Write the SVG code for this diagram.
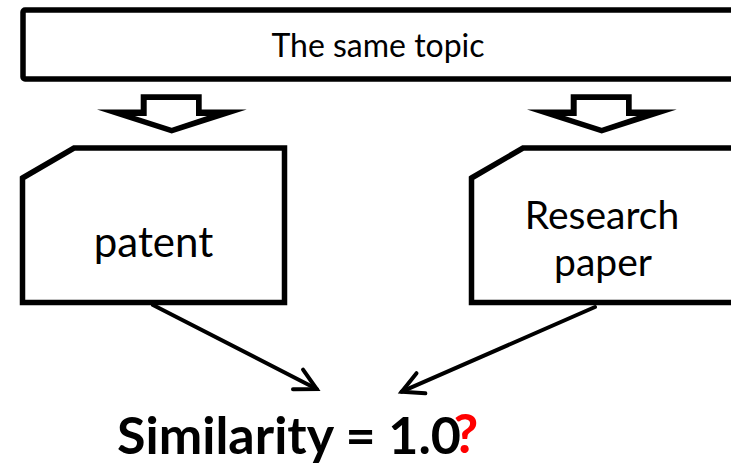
<svg xmlns="http://www.w3.org/2000/svg" width="731" height="464" viewBox="0 0 731 464">
  <style>
    .box { fill: #ffffff; stroke: #000000; stroke-width: 5.5; stroke-linejoin: miter; }
    .lbl { font-family: Lato, "Liberation Sans", sans-serif; fill: #000000; text-anchor: middle; }
    .link { fill: none; stroke: #000000; stroke-width: 4; stroke-linecap: round; }
    .blk { fill: #000000; }
    .hole { fill: #ffffff; }
  </style>
  <defs>
    <marker id="open-head" markerUnits="userSpaceOnUse" markerWidth="40" markerHeight="40" viewBox="-30 -20 40 40" refX="0" refY="0" orient="auto">
      <path d="M -21 -11 L 0 0 L -21 11" fill="none" stroke="#000000" stroke-width="4" stroke-linecap="round" stroke-linejoin="miter"/>
    </marker>
    <!-- hollow block arrow pointing down, tip at (0,0) -->
    <g id="block-arrow">
      <polygon class="blk" points="-31,-39.2 30,-39.2 30,-24 75,-24 0,0 -74.7,-24 -31,-24"/>
      <polygon class="hole" points="-25,-33.5 24.3,-33.5 24.3,-17.5 35.3,-17.5 0,-5.8 -36.7,-17.5 -25,-17.5"/>
    </g>
  </defs>

  <g id="topic">
    <rect class="box" x="23" y="10" width="730" height="69" rx="2"/>
    <text class="lbl" x="378" y="57" font-size="32">The same topic</text>
  </g>

  <g id="patent">
    <polygon class="box" points="22.5,178 74,148 284.5,148 284.5,302.5 22.5,302.5"/>
    <text class="lbl" x="153.5" y="257" font-size="42">patent</text>
  </g>

  <g id="paper">
    <polygon class="box" points="471.5,178 523,148 745,148 745,302.5 471.5,302.5"/>
    <text class="lbl" x="602" y="229" font-size="39">Research</text>
    <text class="lbl" x="603" y="276" font-size="39">paper</text>
  </g>

  <g id="similarity">
    <text class="lbl" x="289" y="454" font-size="52" font-weight="bold">Similarity = 1.0</text>
    <text x="466" y="453" font-size="54" font-weight="bold" fill="#ff0000" text-anchor="middle" font-family="Lato, 'Liberation Sans', sans-serif">?</text>
  </g>

  <g id="connectors">
    <use href="#block-arrow" x="171.7" y="133.5"/>
    <use href="#block-arrow" x="601.7" y="133.5"/>
    <line class="link" x1="153" y1="305" x2="316.7" y2="389" marker-end="url(#open-head)"/>
    <line class="link" x1="595" y1="307" x2="401.7" y2="391.7" marker-end="url(#open-head)"/>
  </g>
</svg>
